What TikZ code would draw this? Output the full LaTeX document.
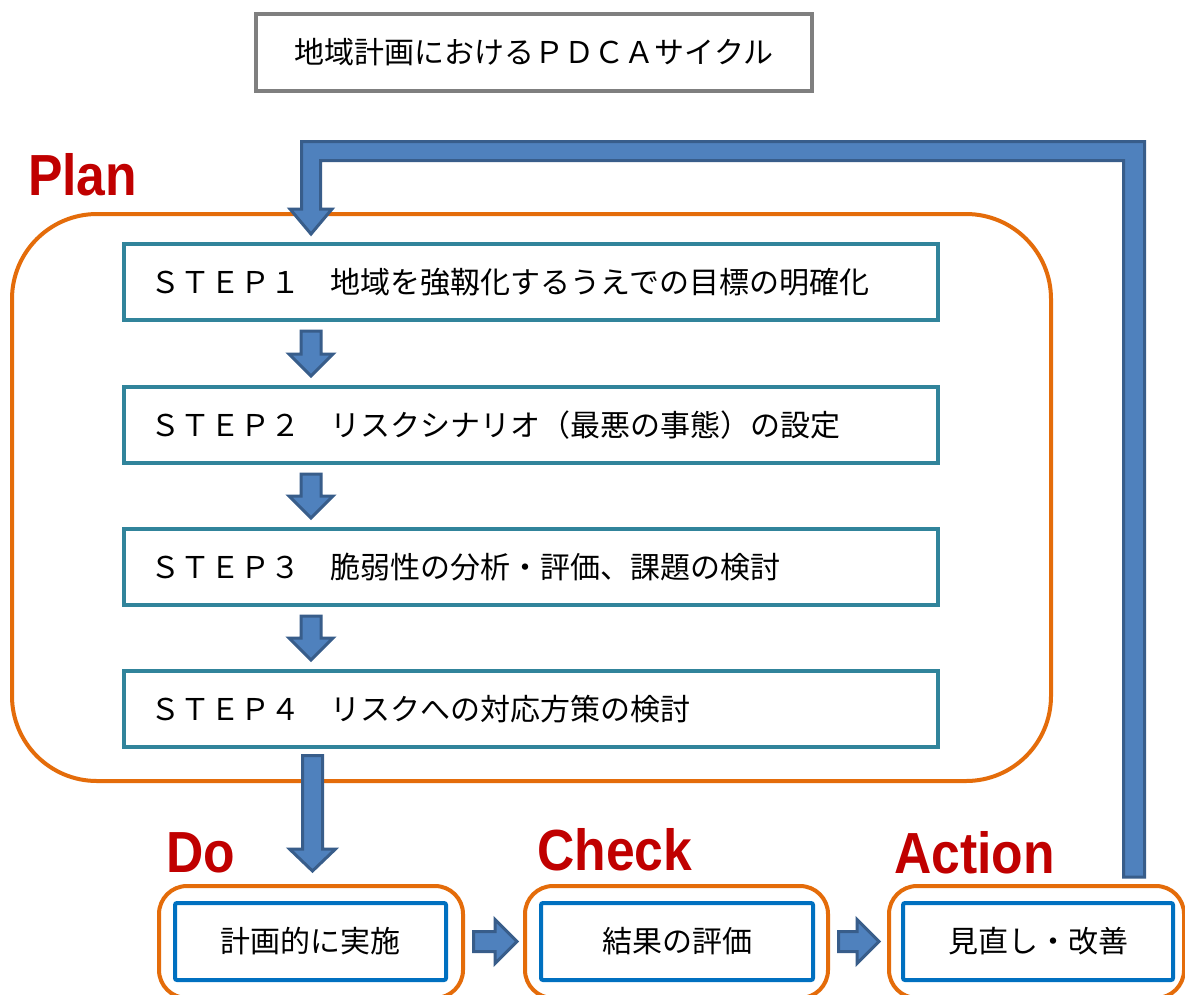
\documentclass[tikz,border=0pt]{standalone}
\usepackage{fontspec}
\newfontfamily\jp{Noto Sans CJK JP}
\newfontfamily\labfont{Liberation Sans}
\usetikzlibrary{calc}
\definecolor{plano}{HTML}{E46C0A}
\definecolor{stepc}{HTML}{31849B}
\definecolor{boxb}{HTML}{0070C0}
\definecolor{titleg}{HTML}{7F7F7F}
\definecolor{arrf}{HTML}{4F81BD}
\definecolor{arrd}{HTML}{385D8A}
\definecolor{labred}{HTML}{C00000}
\tikzset{
  jptext/.style={font=\jp\fontsize{30}{36}\selectfont, text=black},
  titlebox/.style={draw=titleg, line width=4pt, fill=white, minimum width=556pt, minimum height=77pt, inner sep=0pt, jptext},
  stepbox/.style={draw=stepc, line width=4pt, fill=white, minimum width=814pt, minimum height=76pt, inner sep=0pt},
  phasebox/.style={draw=plano, line width=4pt, rounded corners=28pt},
  actbox/.style={draw=boxb, line width=4pt, fill=white, rounded corners=2pt, minimum height=77pt, inner sep=0pt, jptext},
  steptext/.style={jptext, anchor=west, inner sep=0pt},
  phaselabel/.style={anchor=base west, inner sep=0pt, text=labred, font=\labfont\bfseries\fontsize{58}{60}\selectfont},
  blockarrow/.style={fill=arrf, draw=arrd, line width=3pt, line join=miter}
}
\newcommand\vblk[4]{%
  \path[blockarrow] let \p1=(#1), \p2=(#2) in
    (\x2-#3,\y1) -- (\x2+#3,\y1) -- (\x2+#3,\y2+22pt) -- (\x2+#4,\y2+22pt) -- (\x2,\y2)
    -- (\x2-#4,\y2+22pt) -- (\x2-#3,\y2+22pt) -- cycle;}
\newcommand\hblk[4]{%
  \path[blockarrow] let \p1=(#1), \p2=(#2) in
    (\x1,\y2+#3) -- (\x2-22pt,\y2+#3) -- (\x2-22pt,\y2+#4) -- (\x2,\y2)
    -- (\x2-22pt,\y2-#4) -- (\x2-22pt,\y2-#3) -- (\x1,\y2-#3) -- cycle;}
\begin{document}
\begin{tikzpicture}[x=1pt,y=-1pt]
\useasboundingbox[fill=white] (0,0) rectangle (1185,994);

% title
\node[titlebox] (title) at (534,52.5) {地域計画におけるＰＤＣＡサイクル};

% Plan frame
\draw[draw=plano, line width=4pt, rounded corners=85pt] (12,214) rectangle (1051,781);
\node[phaselabel] (planlab) at (28,195) {\scalebox{0.89}[1]{Plan}};

% steps
\node[stepbox] (s1) at (531,282) {};
\node[stepbox] (s2) at (531,425) {};
\node[stepbox] (s3) at (531,567) {};
\node[stepbox] (s4) at (531,709) {};
\node[steptext] (t1) at (150,282) {ＳＴＥＰ１　地域を強靱化するうえでの目標の明確化};
\node[steptext] (t2) at (150,425) {ＳＴＥＰ２　リスクシナリオ（最悪の事態）の設定};
\node[steptext] (t3) at (150,567) {ＳＴＥＰ３　脆弱性の分析・評価、課題の検討};
\node[steptext] (t4) at (150,709) {ＳＴＥＰ４　リスクへの対応方策の検討};

% bottom phase frames
\draw[phasebox] (159,886) rectangle (463,998);
\draw[phasebox] (525,886) rectangle (828,998);
\draw[phasebox] (889,886) rectangle (1184,998);

\node[actbox, minimum width=271pt] (do) at (310.5,941.5) {計画的に実施};
\node[actbox, minimum width=272pt] (check) at (677,941.5) {結果の評価};
\node[actbox, minimum width=270pt] (act) at (1038,941.5) {見直し・改善};

\node[phaselabel] (dolab) at (166,872) {\scalebox{0.89}[1]{Do}};
\node[phaselabel] (chlab) at (537,870) {\scalebox{0.89}[1]{Check}};
\node[phaselabel] (aclab) at (894,873) {\scalebox{0.89}[1]{Action}};

% arrows between steps
\coordinate (a1t) at ([xshift=189pt,yshift=-9pt]s1.south west);
\coordinate (a1b) at ([xshift=189pt,yshift=9pt]s2.north west);
\coordinate (a2t) at ([xshift=189pt,yshift=-9pt]s2.south west);
\coordinate (a2b) at ([xshift=189pt,yshift=9pt]s3.north west);
\coordinate (a3t) at ([xshift=189pt,yshift=-9pt]s3.south west);
\coordinate (a3b) at ([xshift=189pt,yshift=9pt]s4.north west);
\vblk{a1t}{a1b}{10pt}{22pt}
\vblk{a2t}{a2b}{10pt}{22pt}
\vblk{a3t}{a3b}{10pt}{22pt}

% step 4 to Do
\coordinate (a4t) at ([xshift=188.5pt,yshift=-6.5pt]s4.south west);
\coordinate (a4b) at ([xshift=2pt,yshift=30pt]do.north);
\vblk{a4t}{a4b}{10pt}{23pt}

% horizontal arrows
\coordinate (h1s) at ([xshift=25.5pt]do.east);
\coordinate (h1e) at ([xshift=-22pt]check.west);
\coordinate (h2s) at ([xshift=23.5pt]check.east);
\coordinate (h2e) at ([xshift=-22pt]act.west);
\hblk{h1s}{h1e}{10pt}{22pt}
\hblk{h2s}{h2e}{10pt}{22pt}

% feedback arrow
\coordinate (fbtip) at ([xshift=189pt,yshift=8pt]s1.north west);
\coordinate (fbend) at ([xshift=96pt,yshift=24pt]act.north);
\coordinate (fbtop) at (0,151);
\path[blockarrow] let \p1=(fbtip), \p2=(fbend), \p3=(fbtop) in
  (\x2-10.5pt,\y2) -- (\x2-10.5pt,\y3-9.5pt) -- (\x1+9.5pt,\y3-9.5pt) -- (\x1+9.5pt,\y1+25pt)
  -- (\x1+21pt,\y1+25pt) -- (\x1,\y1) -- (\x1-21pt,\y1+25pt) -- (\x1-9.5pt,\y1+25pt)
  -- (\x1-9.5pt,\y3+9.5pt) -- (\x2+10.5pt,\y3+9.5pt) -- (\x2+10.5pt,\y2) -- cycle;
\end{tikzpicture}
\end{document}
